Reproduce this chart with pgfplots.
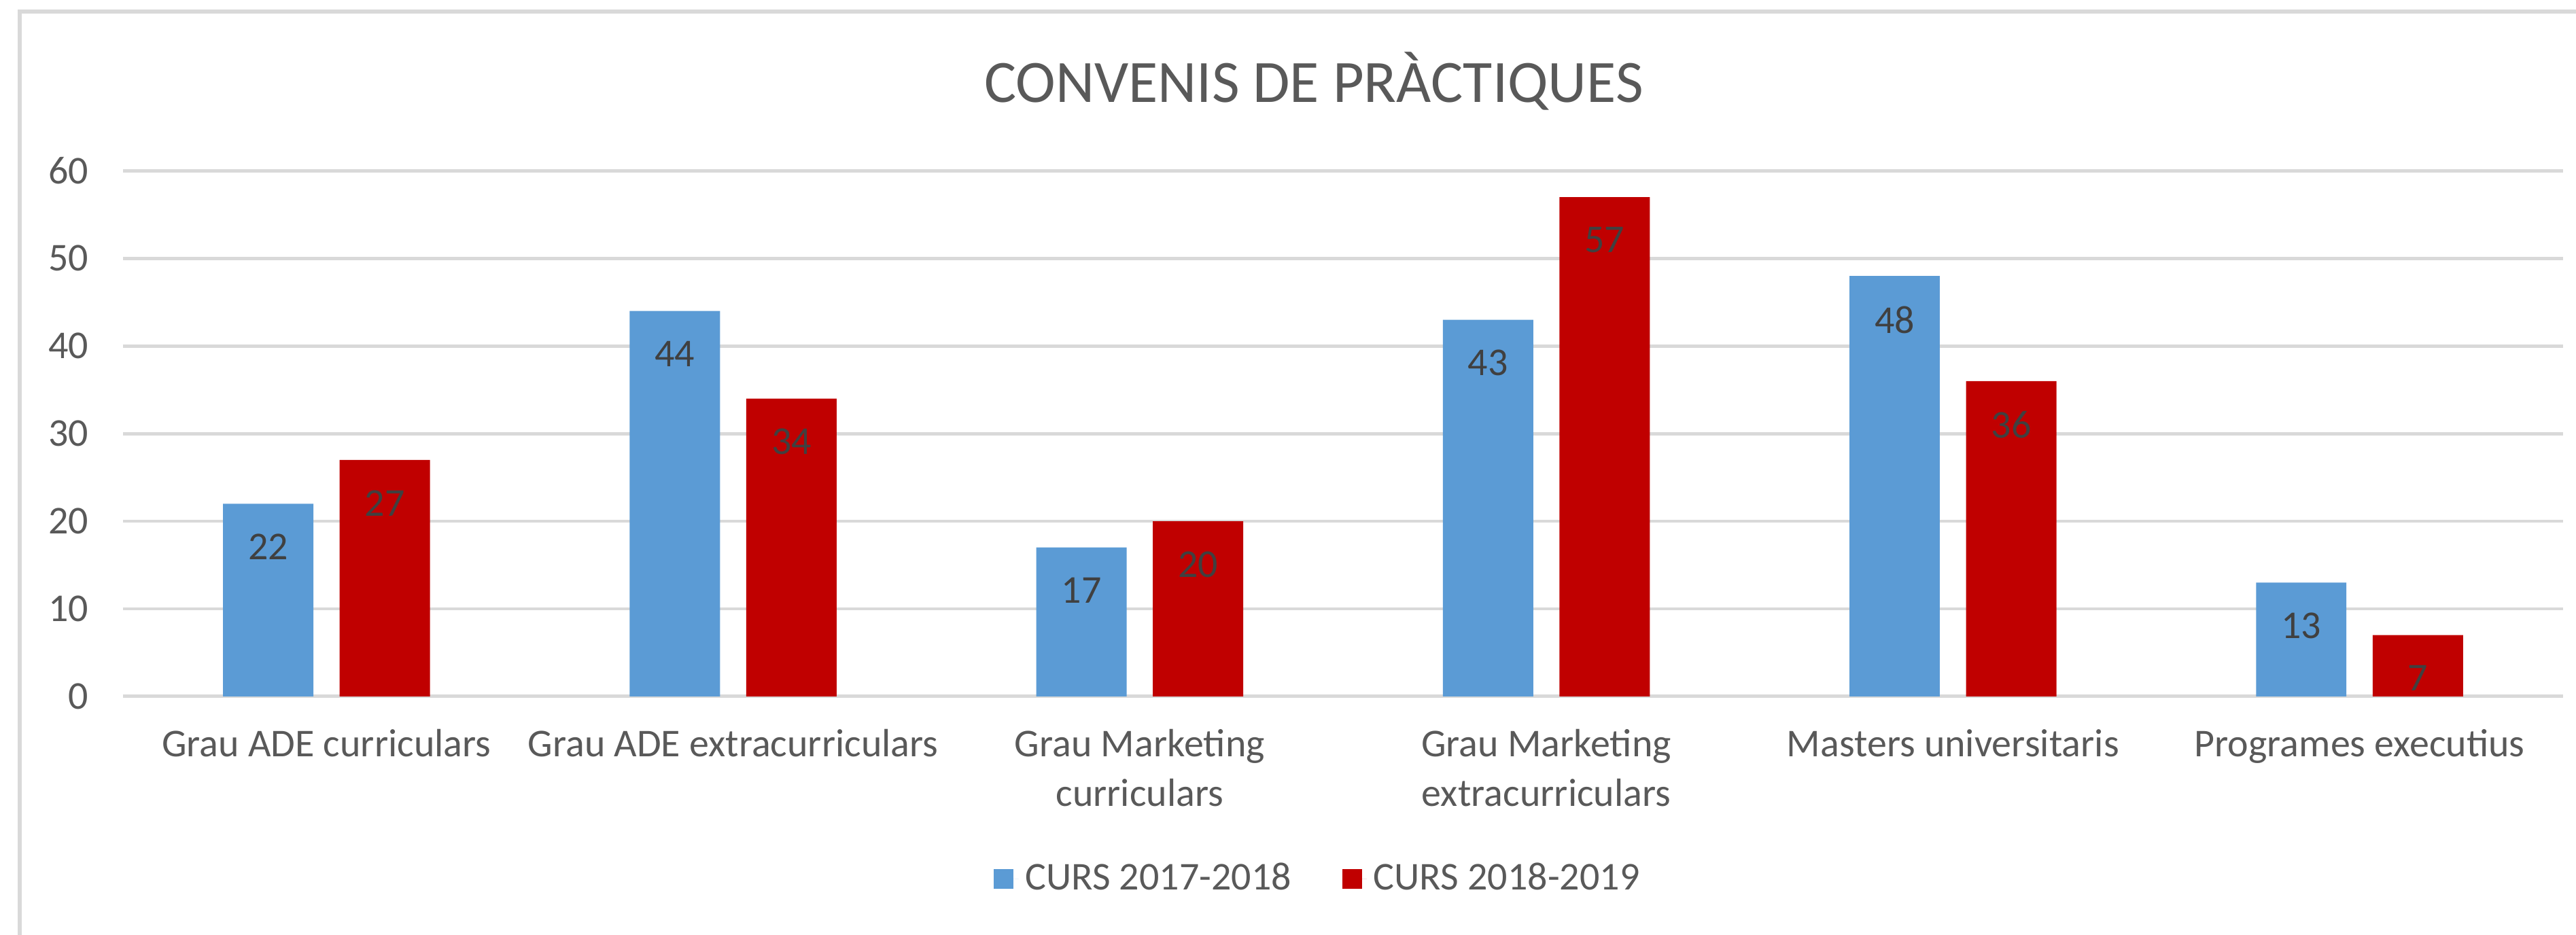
\documentclass[border=0pt]{standalone}
\usepackage{fontspec}
\setmainfont{Carlito}
\usepackage{pgfplots}
\pgfplotsset{compat=1.18}
\definecolor{bblue}{HTML}{5B9BD5}
\definecolor{bred}{HTML}{C00000}
\definecolor{gridgray}{HTML}{D9D9D9}
\definecolor{txtgray}{HTML}{595959}
\definecolor{lblgray}{HTML}{404040}

\begin{document}
\begin{tikzpicture}
\begin{axis}[
    at={(0,0)}, anchor=south west,
    width=742.5pt, height=160pt, scale only axis,
    ybar=8pt, bar width=27.5pt,
    xmin=-0.5, xmax=5.5, ymin=0, ymax=60,
    xtick={0,...,5},
    xticklabels={Grau ADE curriculars, Grau ADE extracurriculars, {Grau Marketing\\curriculars}, {Grau Marketing\\extracurriculars}, Masters universitaris, Programes executius},
    xticklabel style={align=center, font=\fontsize{12}{15}\selectfont, text=txtgray, yshift=-6.5pt},
    ytick={0,10,...,60},
    yticklabel style={font=\fontsize{12}{14}\selectfont, text=txtgray, xshift=-7pt},
    /pgf/number format/assume math mode=true,
    ymajorgrids, grid style={gridgray, line width=1pt},
    axis x line*=bottom, axis y line*=left,
    x axis line style={gridgray, line width=1pt, -},
    y axis line style={draw=none},
    major tick length=0pt,
    nodes near coords,
    every node near coord/.append style={anchor=north, font=\fontsize{12}{14}\selectfont, text=lblgray, yshift=-5.7pt},
    title={CONVENIS DE PRÀCTIQUES},
    every axis title shift=0pt,
    title style={at={(0.488,1.131)}, anchor=base, font=\fontsize{18.3}{22}\selectfont, text=txtgray},
    legend style={at={(0.4906,-0.347)}, anchor=center, draw=none, fill=none, legend columns=2,
        font=\fontsize{12}{14}\selectfont, text=txtgray,
        /tikz/every even column/.append style={column sep=13.5pt}},
    legend image code/.code={\fill[#1] (0pt,-3pt) rectangle (6pt,3pt); \path (0pt,0pt) -- (7.5pt,0pt);},
    clip=false,
]
\addplot[fill=bblue, draw=none] coordinates {(0,22) (1,44) (2,17) (3,43) (4,48) (5,13)};
\addplot[fill=bred, draw=none] coordinates {(0,27) (1,34) (2,20) (3,57) (4,36) (5,7)};
\legend{CURS 2017-2018, CURS 2018-2019}
\end{axis}
\draw[gridgray, line width=1.25pt] (-31.5pt,-73pt) -- (-31.5pt,208.5pt) -- (747pt,208.5pt);
\pgfresetboundingbox
\useasboundingbox (-37.5pt,-72.5pt) rectangle (746.5pt,212pt);
\end{tikzpicture}
\end{document}
